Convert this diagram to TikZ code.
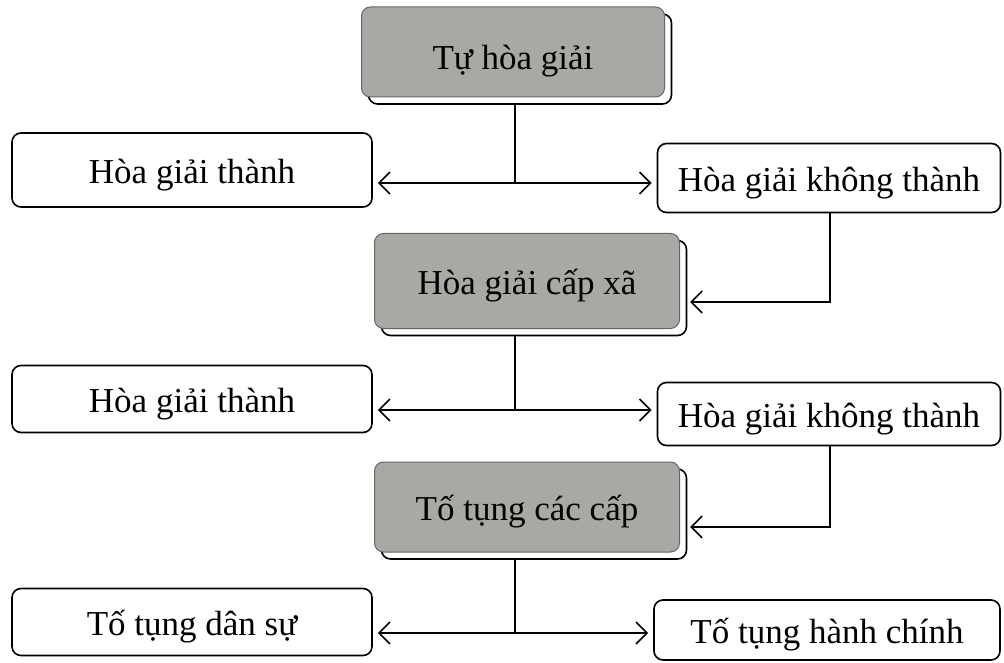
\documentclass[tikz,border=0pt]{standalone}
\usepackage{fontspec}
\setmainfont{Liberation Serif}
\usetikzlibrary{arrows.meta,shadows,calc}
\definecolor{boxgray}{RGB}{170,168,164}
\tikzset{
  x=1pt, y=-1pt,
  every node/.style={font=\fontsize{35}{40}\selectfont, text height=30pt, text depth=3pt},
  plain/.style={draw=black, line width=1.6pt, rounded corners=9pt, fill=white, inner sep=0pt},
  graybox/.style={draw=black!60, line width=1pt, rounded corners=9pt, fill=boxgray, inner sep=0pt,
    copy shadow={shadow xshift=7pt, shadow yshift=-7pt, fill=white, draw=black, line width=1.6pt}},
  conn/.style={line width=1.6pt},
  arr/.style={line width=1.6pt, -{Straight Barb[length=11pt,width=22pt,line width=1.6pt]}, shorten >=5pt}
}
\begin{document}
\begin{tikzpicture}
\useasboundingbox (0,0) rectangle (1004,663);
% gray boxes
\node[graybox, minimum width=303pt, minimum height=90pt, text height=36pt, text depth=0pt] (top) at (513,52) {Tự hòa giải};
\node[graybox, minimum width=305pt, minimum height=95pt] (mid) at (527,281) {Hòa giải cấp xã};
\node[graybox, minimum width=305pt, minimum height=90pt] (bot) at (527,507) {Tố tụng các cấp};
% row 1
\node[plain, minimum width=360pt, minimum height=74pt] (l1) at (192,170) {Hòa giải thành};
\node[plain, minimum width=343pt, minimum height=69pt] (r1) at (829,178) {Hòa giải không thành};
% row 2
\node[plain, minimum width=360pt, minimum height=67pt] (l2) at (192,399) {Hòa giải thành};
\node[plain, minimum width=343pt, minimum height=63pt] (r2) at (829,414) {Hòa giải không thành};
% row 3
\node[plain, minimum width=360pt, minimum height=67pt] (l3) at (192,622) {Tố tụng dân sự};
\node[plain, minimum width=346pt, minimum height=60pt] (r3) at (827,630) {Tố tụng hành chính};
% junctions
\coordinate (j1) at (515,183);
\coordinate (j2) at (515,410);
\coordinate (j3) at (515,633);
\coordinate (c1) at (830,302);
\coordinate (c2) at (830,527);
% connectors
\draw[conn] ([yshift=-7pt]j1 |- top.south) -- (j1);
\draw[arr] (j1) -- (j1 -| l1.east);
\draw[arr] (j1) -- (j1 -| r1.west);
\draw[conn] ([yshift=-7pt]j2 |- mid.south) -- (j2);
\draw[arr] (j2) -- (j2 -| l2.east);
\draw[arr] (j2) -- (j2 -| r2.west);
\draw[conn] ([yshift=-7pt]j3 |- bot.south) -- (j3);
\draw[arr] (j3) -- (j3 -| l3.east);
\draw[arr] (j3) -- (j3 -| r3.west);
\draw[arr, shorten >=3pt] (r1.south -| c1) -- (c1) -- ([xshift=7pt]c1 -| mid.east);
\draw[arr, shorten >=3pt] (r2.south -| c2) -- (c2) -- ([xshift=7pt]c2 -| bot.east);
\end{tikzpicture}
\end{document}
